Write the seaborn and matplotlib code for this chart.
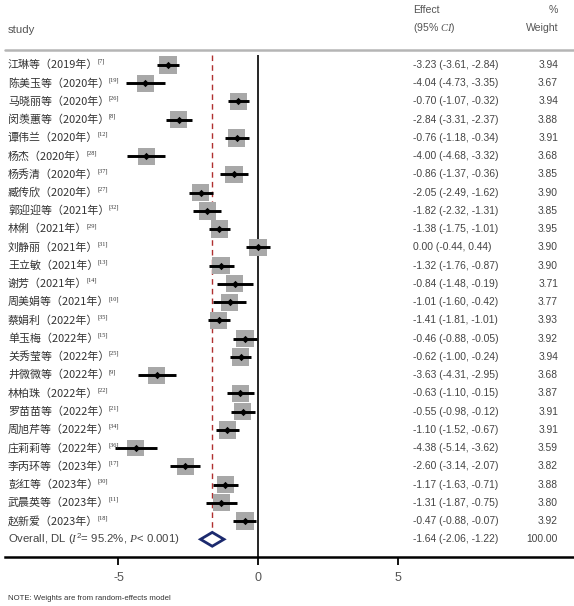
import matplotlib
matplotlib.use('Agg')
import matplotlib.pyplot as plt
import matplotlib.transforms as mtransforms
import seaborn as sns
import pandas as pd
import numpy as np

# study labels, reference numbers and effect estimates
studies = ['江琳等（2019年）', '陈美玉等（2020年）', '马晓丽等（2020年）', '闵羡蕙等（2020年）',
           '谭伟兰（2020年）', '杨杰（2020年）', '杨秀清（2020年）', '臧传欣（2020年）',
           '郭迎迎等（2021年）', '林俐（2021年）', '刘静丽（2021年）', '王立敏（2021年）',
           '谢芳（2021年）', '周美娟等（2021年）', '蔡娟利（2022年）', '单玉梅（2022年）',
           '关秀莹等（2022年）', '井微微等（2022年）', '林柏珠（2022年）', '罗苗苗等（2022年）',
           '周旭芹等（2022年）', '庄莉莉等（2022年）', '李丙环等（2023年）', '彭红等（2023年）',
           '武晨英等（2023年）', '赵新爱（2023年）']
refs = ['[7]', '[19]', '[26]', '[8]', '[12]', '[28]', '[37]', '[27]', '[32]', '[29]', '[31]',
        '[13]', '[14]', '[10]', '[35]', '[15]', '[25]', '[9]', '[22]', '[21]', '[34]', '[36]',
        '[17]', '[30]', '[11]', '[18]']
effects = [-3.23, -4.04, -0.70, -2.84, -0.76, -4.00, -0.86, -2.05, -1.82, -1.38, 0.00, -1.32,
           -0.84, -1.01, -1.41, -0.46, -0.62, -3.63, -0.63, -0.55, -1.10, -4.38, -2.60, -1.17,
           -1.31, -0.47]
ci_low = [-3.61, -4.73, -1.07, -3.31, -1.18, -4.68, -1.37, -2.49, -2.32, -1.75, -0.44, -1.76,
          -1.48, -1.60, -1.81, -0.88, -1.00, -4.31, -1.10, -0.98, -1.52, -5.14, -3.14, -1.63,
          -1.87, -0.88]
ci_high = [-2.84, -3.35, -0.32, -2.37, -0.34, -3.32, -0.36, -1.62, -1.31, -1.01, 0.44, -0.87,
           -0.19, -0.42, -1.01, -0.05, -0.24, -2.95, -0.15, -0.12, -0.67, -3.62, -2.07, -0.71,
           -0.75, -0.07]
weights = [3.94, 3.67, 3.94, 3.88, 3.91, 3.68, 3.85, 3.90, 3.85, 3.95, 3.90, 3.90, 3.71, 3.77,
           3.93, 3.92, 3.94, 3.68, 3.87, 3.91, 3.91, 3.59, 3.82, 3.88, 3.80, 3.92]

overall_label = r'Overall, DL ($I^2$= 95.2%, $P$< 0.001)'
overall_effect = -1.64
overall_low = -2.06
overall_high = -1.22
overall_weight = 100.00

sns.set_style('white')
plt.rcParams['font.family'] = ['Liberation Sans Narrow', 'Liberation Sans', 'DejaVu Sans']
plt.rcParams['mathtext.fontset'] = 'custom'
plt.rcParams['mathtext.it'] = 'Liberation Serif:italic'
plt.rcParams['mathtext.rm'] = 'Liberation Sans'

W, H = 574, 606
fig = plt.figure(figsize=(W / 100, H / 100), dpi=100)
ax = fig.add_axes([5 / W, 1 - 557 / H, 569 / W, 557 / H])

df = pd.DataFrame({'study': studies, 'ref': refs, 'effect': effects, 'low': ci_low,
                   'high': ci_high, 'weight': weights})
df['row'] = np.arange(len(df))
n = len(df)
overall_row = n

# weight boxes, CI lines and point estimates
sns.scatterplot(data=df, x='effect', y='row', size='weight',
                sizes=(40 * min(weights), 40 * max(weights)), marker='s',
                color='#a8a8a8', linewidth=0, legend=False, ax=ax, zorder=2)
ax.hlines(df['row'], df['low'], df['high'], color='black', lw=2.1, zorder=3)
sns.scatterplot(data=df, x='effect', y='row', marker='D', color='black', s=14,
                linewidth=0, legend=False, ax=ax, zorder=4)

# overall diamond
h = 0.38
ax.fill([overall_low, overall_effect, overall_high, overall_effect],
        [overall_row, overall_row - h, overall_row, overall_row + h],
        facecolor='white', edgecolor='#1c2a6e', lw=2, zorder=5)

ymin, ymax = -3.564, 26.97
top_line = (55 - 65) / 18.24
ax.vlines(0, top_line, ymax, color='black', lw=1.2, zorder=1)
ax.vlines(overall_effect, top_line, overall_row - h, color='#b03030', lw=1.0,
          linestyles=(0, (4, 3)), zorder=1)
ax.axhline((50 - 65) / 18.24, color='#b5b5b5', lw=1.8, clip_on=False)

ax.set_xlim(-9.068, 11.326)
ax.set_ylim(ymax, ymin)
ax.set_xticks([-5, 0, 5])
ax.set_xticklabels(['-5', '0', '5'])
ax.set_yticks([])
ax.set_xlabel('')
ax.set_ylabel('')
sns.despine(ax=ax, left=True)
ax.spines['bottom'].set_linewidth(1.8)
ax.spines['bottom'].set_color('black')
ax.tick_params(axis='x', length=6, width=1.3, color='black', labelcolor='#555555',
               labelsize=9, direction='out', pad=5, bottom=True)

# text columns
trans = mtransforms.blended_transform_factory(fig.transFigure, ax.transData)
name_texts = []
for i, row in df.iterrows():
    t = ax.text(8 / W, row['row'], row['study'], transform=trans, fontsize=7.9,
                family=['Noto Sans CJK SC', 'DejaVu Sans'], color='#333333', va='center')
    name_texts.append(t)
    ax.text(413 / W, row['row'], f"{row['effect']:.2f} ({row['low']:.2f}, {row['high']:.2f})",
            transform=trans, fontsize=7.4, color='#444444', va='center')
    ax.text(558 / W, row['row'], f"{row['weight']:.2f}", transform=trans, fontsize=7.4,
            color='#444444', va='center', ha='right')

fig.canvas.draw()
renderer = fig.canvas.get_renderer()
for t, r, i in zip(name_texts, refs, df['row']):
    x1 = t.get_window_extent(renderer).x1
    ax.text((x1 - 1) / W, i - 0.18, r, transform=trans, fontsize=4.5,
            family=['Liberation Serif'], color='#333333', va='center')

ax.text(8 / W, overall_row, overall_label, transform=trans, fontsize=8.2,
        color='#444444', va='center')
ax.text(413 / W, overall_row, f'{overall_effect:.2f} ({overall_low:.2f}, {overall_high:.2f})',
        transform=trans, fontsize=7.4, color='#444444', va='center')
ax.text(558 / W, overall_row, f'{overall_weight:.2f}', transform=trans, fontsize=7.4,
        color='#444444', va='center', ha='right')

# header
fig.text(8 / W, 1 - 30 / H, 'study', fontsize=8.2, color='#555555', va='center')
fig.text(413 / W, 1 - 10 / H, 'Effect', fontsize=7.6, color='#555555', va='center')
fig.text(413 / W, 1 - 28 / H, '(95% $CI$)', fontsize=7.6, color='#555555', va='center')
fig.text(558 / W, 1 - 10 / H, '%', fontsize=7.6, color='#555555', va='center', ha='right')
fig.text(558 / W, 1 - 28 / H, 'Weight', fontsize=7.6, color='#555555', va='center', ha='right')

fig.text(8 / W, 1 - 598 / H, 'NOTE: Weights are from random-effects model', fontsize=5.6,
         color='#333333', va='center')

fig.savefig('out.png', dpi=100)
